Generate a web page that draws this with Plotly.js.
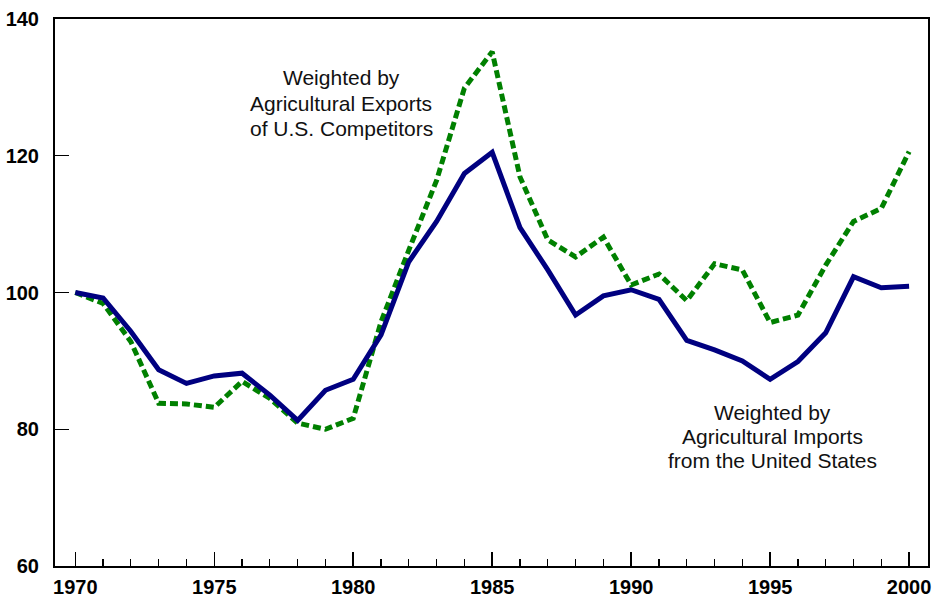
<!DOCTYPE html>
<html>
<head>
<meta charset="utf-8">
<script src="https://cdn.plot.ly/plotly-3.0.1.min.js"></script>
<style>html,body{margin:0;padding:0;background:#fff;}#chart{width:933px;height:598px;}</style>
</head>
<body>
<div id="chart"></div>
<script>
var years = [1970,1971,1972,1973,1974,1975,1976,1977,1978,1979,1980,1981,1982,1983,1984,1985,1986,1987,1988,1989,1990,1991,1992,1993,1994,1995,1996,1997,1998,1999,2000];
var importsWeighted = [100.0,99.2,94.3,88.7,86.7,87.8,88.2,85.0,81.3,85.7,87.3,93.8,104.5,110.4,117.4,120.5,109.5,103.3,96.7,99.5,100.4,99.0,93.0,91.6,90.0,87.3,89.9,94.1,102.3,100.7,100.9];
var exportsWeighted = [100.0,98.4,92.8,83.8,83.7,83.2,87.0,84.5,80.9,80.0,81.6,95.7,106.2,116.4,129.9,135.2,116.9,107.7,105.2,108.1,101.1,102.7,98.8,104.2,103.3,95.6,96.7,104.0,110.4,112.3,120.6];
var exportsLabel = ["Weighted by", "Agricultural Exports", "of U.S. Competitors"];
var importsLabel = ["Weighted by", "Agricultural Imports", "from the United States"];

var traces = [
  {x: years, y: exportsWeighted, type: 'scatter', mode: 'lines', name: 'Exports',
   line: {color: '#008000', width: 5, dash: '8px,4px'}},
  {x: years, y: importsWeighted, type: 'scatter', mode: 'lines', name: 'Imports',
   line: {color: '#000080', width: 5}}
];

var annotations = [];
var exY = [131.4, 127.7, 124.0];
var imY = [82.4, 78.9, 75.4];
exportsLabel.forEach(function(t, i){
  annotations.push({x: 1979.56, y: exY[i], xref: 'x', yref: 'y', text: t, showarrow: false,
    xanchor: 'center', yanchor: 'middle', font: {family: 'Arial, Liberation Sans, sans-serif', size: 21, color: '#111'}});
});
importsLabel.forEach(function(t, i){
  annotations.push({x: 1995.07, y: imY[i], xref: 'x', yref: 'y', text: t, showarrow: false,
    xanchor: 'center', yanchor: 'middle', font: {family: 'Arial, Liberation Sans, sans-serif', size: 21, color: '#111'}});
});

var layout = {
  width: 933, height: 598,
  margin: {l: 55, r: 5, t: 19, b: 32, pad: 0},
  paper_bgcolor: '#fff', plot_bgcolor: '#fff',
  showlegend: false,
  font: {family: 'Arial, Liberation Sans, sans-serif', color: '#000'},
  xaxis: {
    range: [1969.27, 2000.68], tickmode: 'linear', tick0: 1970, dtick: 5,
    ticks: 'inside', ticklen: 14, tickwidth: 1.5, tickcolor: '#000',
    showgrid: false, zeroline: false, showline: true, linecolor: '#000', linewidth: 2,
    mirror: true,
    tickfont: {size: 20, family: 'Arial, Liberation Sans, sans-serif', weight: 'bold', color: '#000'},
    ticklabelstandoff: 2,
    minor: {dtick: 1, tick0: 1970, ticks: 'inside', ticklen: 7, tickwidth: 1.2, tickcolor: '#000', showgrid: false}
  },
  yaxis: {
    range: [60, 140], tickmode: 'linear', tick0: 60, dtick: 20,
    ticks: 'inside', ticklen: 14, tickwidth: 1.2, tickcolor: '#000',
    showgrid: false, zeroline: false, showline: true, linecolor: '#000', linewidth: 2,
    mirror: true,
    tickfont: {size: 20, family: 'Arial, Liberation Sans, sans-serif', weight: 'bold', color: '#000'},
    ticklabelstandoff: 10
  },
  annotations: annotations
};

Plotly.newPlot('chart', traces, layout, {displayModeBar: false, staticPlot: true});
</script>
</body>
</html>
